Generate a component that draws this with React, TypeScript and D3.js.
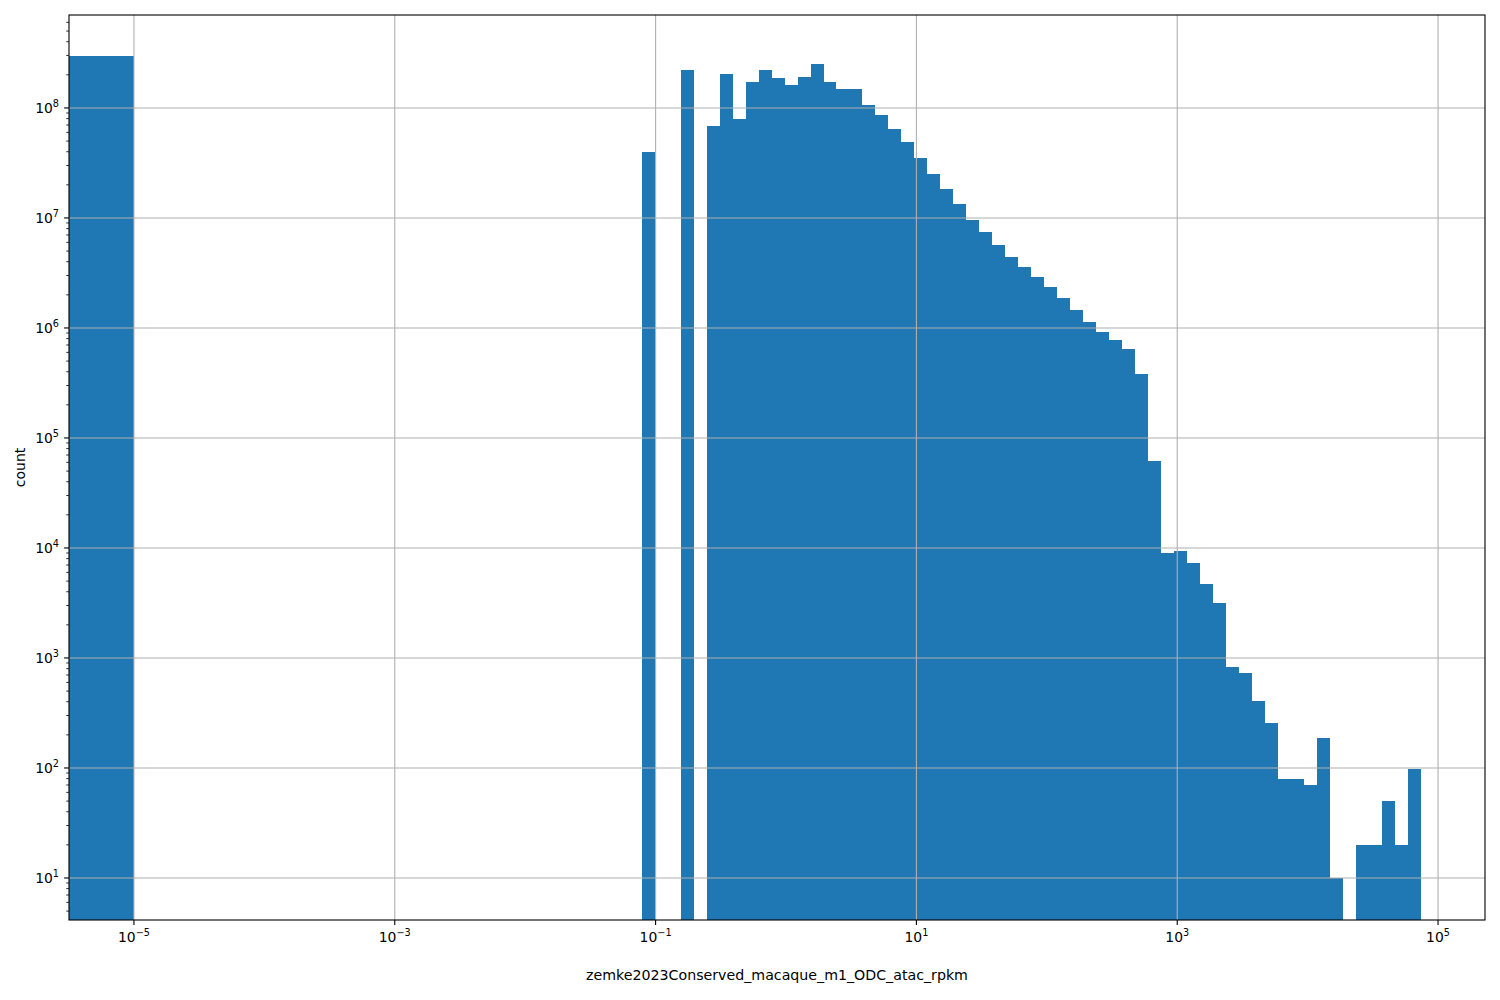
import React from 'react';
import * as d3 from 'd3';

// histogram of log-spaced bins (10 per decade), counts
const binLogMin = -1.107;
const binLogMax = 4.87;
const binCounts = [
  4.0e7, 0, 0, 2.21e8, 0, 6.85e7, 2.04e8, 7.94e7, 1.72e8, 2.21e8,
  1.87e8, 1.62e8, 1.91e8, 2.51e8, 1.72e8, 1.49e8, 1.49e8, 1.06e8, 8.64e7, 6.44e7,
  4.91e7, 3.51e7, 2.51e7, 1.84e7, 1.34e7, 9.59e6, 7.46e6, 5.69e6, 4.42e6, 3.59e6,
  2.91e6, 2.36e6, 1.88e6, 1.46e6, 1.13e6, 9.2e5, 7.78e5, 6.44e5, 3.82e5, 6.18e4,
  9.0e3, 9.4e3, 7.3e3, 4.7e3, 3.16e3, 828, 731, 406, 257, 79,
  79, 70, 187, 10, 0, 20, 20, 50, 20, 98,
];

// the zero-valued entries, drawn as one wide bin ending at 1e-5
const zeroBinEdges = [1e-6, 1e-5];
const zeroBinCount = 2.97e8;

const xTickExps = [-5, -3, -1, 1, 3, 5];
const yTickExps = [1, 2, 3, 4, 5, 6, 7, 8];

const xLabel = 'zemke2023Conserved_macaque_m1_ODC_atac_rpkm';
const yLabel = 'count';

const W = 1500;
const H = 1000;
const margin = { left: 69, right: 15, top: 15, bottom: 80 };
const FONT = 'DejaVu Sans, sans-serif';
const BLUE = '#1f77b4';
const GRID = '#b0b0b0';

const Pow10 = ({ x, y, exp, anchor }: { x: number; y: number; exp: number; anchor: string }) => {
  const sup = exp < 0 ? `\u2212${-exp}` : `${exp}`;
  return (
    <text x={x} y={y} textAnchor={anchor} fontFamily={FONT} fontSize={13.9} fill="#000">
      10
      <tspan fontSize={9.7} dy={-6}>{sup}</tspan>
    </text>
  );
};

export default function App() {
  const x0 = margin.left;
  const x1 = W - margin.right;
  const y0 = margin.top;
  const y1 = H - margin.bottom;

  const x = d3.scaleLog().domain([Math.pow(10, -5.498), Math.pow(10, 5.36)]).range([x0, x1]);
  const y = d3.scaleLog().domain([Math.pow(10, 0.618), Math.pow(10, 8.845)]).range([y1, y0]);

  const nBins = binCounts.length;
  const step = (binLogMax - binLogMin) / nBins;
  const bins = binCounts.map((c, i) => ({
    lo: Math.pow(10, binLogMin + i * step),
    hi: Math.pow(10, binLogMin + (i + 1) * step),
    count: c,
  }));
  const allBins = [{ lo: zeroBinEdges[0], hi: zeroBinEdges[1], count: zeroBinCount }, ...bins];

  const yDom = y.domain();
  const minorY: number[] = [];
  for (let e = 0; e <= 8; e++) {
    for (let m = 2; m <= 9; m++) {
      const v = m * Math.pow(10, e);
      if (v >= yDom[0] && v <= yDom[1]) minorY.push(v);
    }
  }

  return (
    <svg width={W} height={H} style={{ position: 'absolute', left: 0, top: 0, background: '#fff' }}>
      <defs>
        <clipPath id="plot">
          <rect x={x0} y={y0} width={x1 - x0} height={y1 - y0} />
        </clipPath>
      </defs>
      <rect width={W} height={H} fill="#fff" />
      <g clipPath="url(#plot)">
        {allBins.filter(b => b.count > 0).map((b, i) => (
          <rect
            key={i}
            x={x(b.lo)}
            width={x(b.hi) - x(b.lo)}
            y={y(b.count)}
            height={y1 - y(b.count)}
            fill={BLUE}
            shapeRendering="crispEdges"
          />
        ))}
        {xTickExps.map(e => (
          <line key={'gx' + e} x1={x(Math.pow(10, e))} x2={x(Math.pow(10, e))} y1={y0} y2={y1} stroke={GRID} strokeWidth={1.1} />
        ))}
        {yTickExps.map(e => (
          <line key={'gy' + e} x1={x0} x2={x1} y1={y(Math.pow(10, e))} y2={y(Math.pow(10, e))} stroke={GRID} strokeWidth={1.1} />
        ))}
      </g>
      <rect x={x0} y={y0} width={x1 - x0} height={y1 - y0} fill="none" stroke="#000" strokeWidth={1.1} />
      {xTickExps.map(e => {
        const px = x(Math.pow(10, e));
        return (
          <g key={'tx' + e}>
            <line x1={px} x2={px} y1={y1} y2={y1 + 4.9} stroke="#000" strokeWidth={1.1} />
            <Pow10 x={px} y={y1 + 22} exp={e} anchor="middle" />
          </g>
        );
      })}
      {yTickExps.map(e => {
        const py = y(Math.pow(10, e));
        return (
          <g key={'ty' + e}>
            <line x1={x0 - 4.9} x2={x0} y1={py} y2={py} stroke="#000" strokeWidth={1.1} />
            <Pow10 x={x0 - 10} y={py + 5.5} exp={e} anchor="end" />
          </g>
        );
      })}
      {minorY.map((v, i) => (
        <line key={'my' + i} x1={x0 - 2.8} x2={x0} y1={y(v)} y2={y(v)} stroke="#000" strokeWidth={0.8} />
      ))}
      <text x={(x0 + x1) / 2} y={980} textAnchor="middle" fontFamily={FONT} fontSize={14.2}>
        {xLabel}
      </text>
      <text
        transform={`translate(25,${(y0 + y1) / 2}) rotate(-90)`}
        textAnchor="middle"
        fontFamily={FONT}
        fontSize={14}
      >
        {yLabel}
      </text>
    </svg>
  );
}
